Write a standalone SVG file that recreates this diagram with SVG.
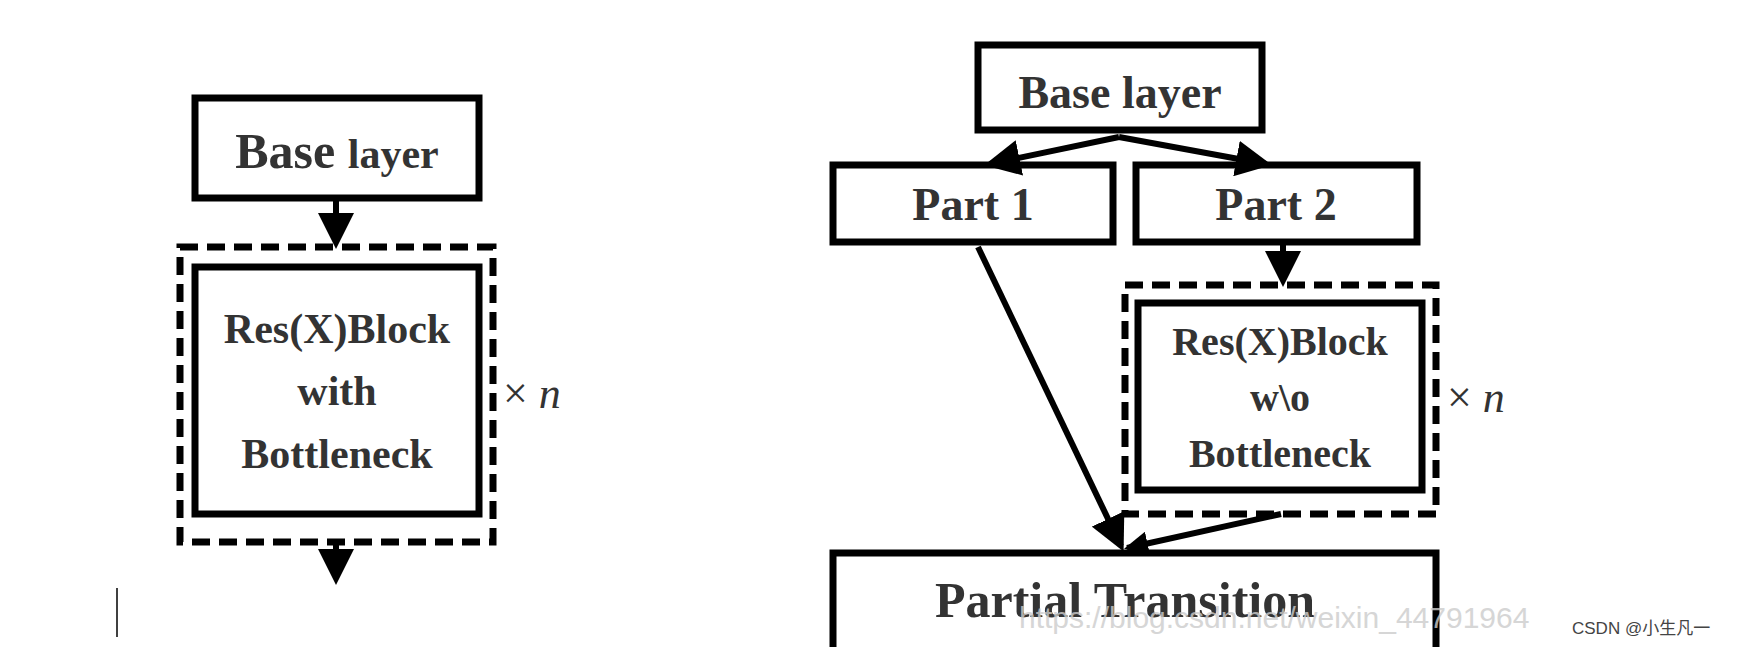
<svg xmlns="http://www.w3.org/2000/svg" width="1746" height="647" viewBox="0 0 1746 647">
<style>
.b{fill:#fff;stroke:#000;stroke-width:7}
.d{fill:none;stroke:#000;stroke-width:7;stroke-dasharray:18 9}
.t{font-family:"Liberation Serif",serif;font-weight:bold;fill:#333;text-anchor:middle}
.c{stroke:#000;stroke-width:6;fill:none}
</style>
<defs><marker id="a" markerWidth="6" markerHeight="6" refX="5" refY="3" orient="auto" markerUnits="strokeWidth"><path d="M0,0L6,3L0,6z" fill="#000"/></marker>
<marker id="a2" markerWidth="4" markerHeight="4" refX="3.5" refY="2" orient="auto" markerUnits="strokeWidth"><path d="M0,0L4,2L0,4z" fill="#000"/></marker></defs>
<rect width="1746" height="647" fill="#fff"/>
<g id="left-base"><rect class="b" x="195" y="98" width="284" height="100"/><text class="t" x="337" y="168" font-size="50">Base <tspan font-size="42">layer</tspan></text></g>
<g id="left-block"><rect class="d" x="180" y="247" width="313" height="295"/><rect class="b" x="195" y="267" width="284" height="247"/>
<text class="t" x="337" y="343" font-size="42">Res(X)Block</text><text class="t" x="337" y="405" font-size="42">with</text><text class="t" x="337" y="468" font-size="42">Bottleneck</text></g>
<text x="503" y="408" font-family="Liberation Serif,serif" font-size="44" fill="#333">× <tspan font-style="italic">n</tspan></text>
<line x1="117" y1="588" x2="117" y2="637" stroke="#000" stroke-width="1.5"/>
<g id="right-base"><rect class="b" x="978" y="45" width="284" height="85"/><text class="t" x="1120" y="108" font-size="46">Base layer</text></g>
<g id="part1"><rect class="b" x="833" y="165" width="280" height="77"/><text class="t" x="973" y="220" font-size="46">Part 1</text></g>
<g id="part2"><rect class="b" x="1136" y="165" width="281" height="77"/><text class="t" x="1276" y="220" font-size="46">Part 2</text></g>
<g id="right-block"><rect class="d" x="1125" y="285" width="311" height="229"/><rect class="b" x="1138" y="303" width="284" height="187"/>
<text class="t" x="1280" y="355" font-size="40">Res(X)Block</text><text class="t" x="1280" y="411" font-size="40">w\o</text><text class="t" x="1280" y="467" font-size="40">Bottleneck</text></g>
<text x="1447" y="412" font-family="Liberation Serif,serif" font-size="44" fill="#333">× <tspan font-style="italic">n</tspan></text>
<g id="transition"><rect class="b" x="833" y="553" width="603" height="100"/><text class="t" x="1125" y="617" font-size="50">Partial Transition</text></g>
<g id="connectors">
<line class="c" x1="336" y1="198" x2="336" y2="243" marker-end="url(#a)"/>
<line class="c" x1="336" y1="542" x2="336" y2="579" marker-end="url(#a)"/>
<line class="c" x1="1119" y1="137" x2="990" y2="164" marker-end="url(#a)"/>
<line class="c" x1="1119" y1="137" x2="1266" y2="164" marker-end="url(#a)"/>
<line class="c" x1="1283" y1="244" x2="1283" y2="281" marker-end="url(#a)"/>
<line class="c" x1="978" y1="247" x2="1121" y2="546" stroke-width="5" marker-end="url(#a)"/>
<line class="c" x1="1281" y1="514" x2="1127" y2="548" stroke-width="8" marker-end="url(#a2)"/>
</g>
<text x="1019" y="628" font-family="Liberation Sans,sans-serif" font-size="30" fill="#ccc" opacity="0.8">https://blog.csdn.net/weixin_44791964</text>
<text x="1572" y="634" font-family="Liberation Sans,'Noto Sans CJK SC',sans-serif" font-size="17" fill="#444">CSDN @小生凡一</text>
</svg>
